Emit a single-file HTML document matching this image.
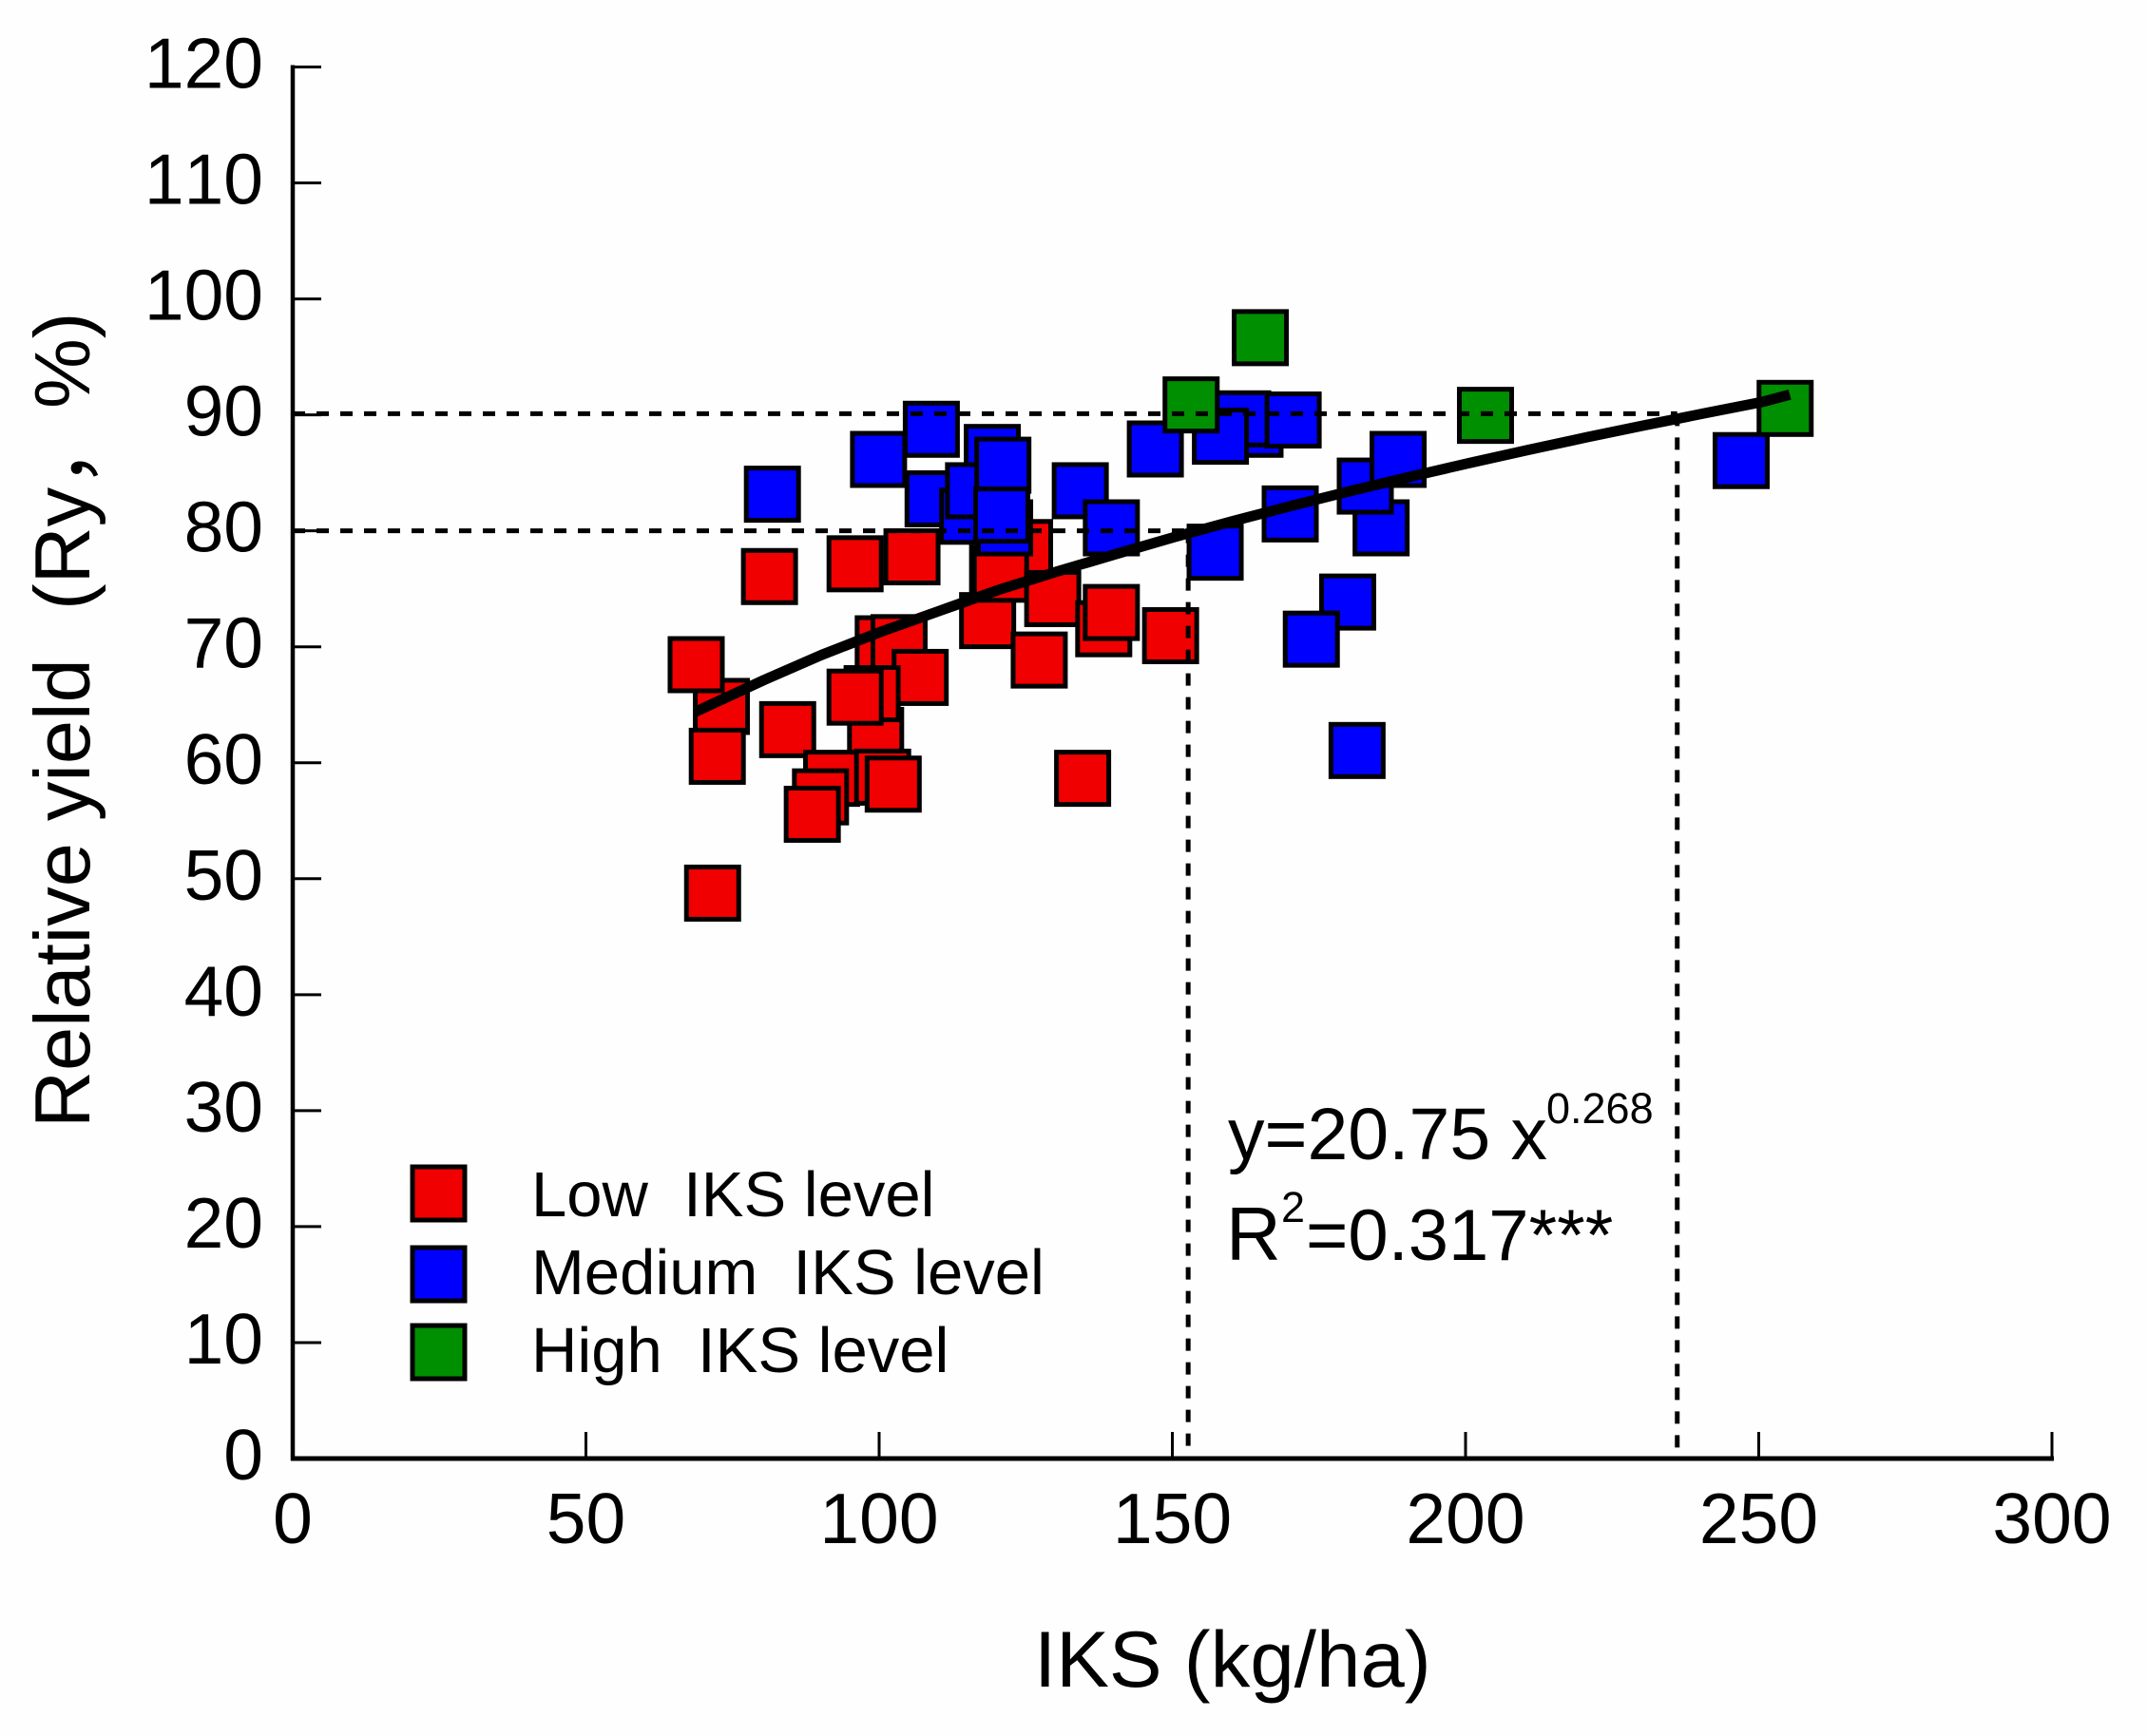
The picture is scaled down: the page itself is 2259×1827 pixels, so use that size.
<!DOCTYPE html>
<html lang="en">
<head>
<meta charset="utf-8">
<title>Relative yield vs IKS</title>
<style>
  html, body { margin: 0; padding: 0; background: #fff; }
  svg { display: block; }
  text { font-family: "Liberation Sans", "Noto Sans CJK SC", sans-serif; fill: #000; white-space: pre; font-kerning: none; }
</style>
</head>
<body>
<svg id="chart" xmlns="http://www.w3.org/2000/svg" width="2259" height="1827" viewBox="0 0 2259 1827">
  <rect x="0" y="0" width="2259" height="1827" fill="#fefefe"/>

  <g id="axes"></g>
  <g id="marks"></g>
  <g id="refs"></g>
  <g id="fit"></g>

  <text x="94" y="1187" font-size="83" transform="rotate(-90 94 1187)">Relative yield</text>
  <text x="94" y="642" font-size="83" transform="rotate(-90 94 642)">(Ry，</text>
  <text x="94" y="430" font-size="83" transform="rotate(-90 94 430)">%)</text>
  <text x="1088" y="1775" font-size="83.5">IKS (kg/ha)</text>

  <g>
    <rect x="434" y="1228" width="55" height="56" fill="#f00000" stroke="#000" stroke-width="5"/>
    <text x="559" y="1280" font-size="67">Low  IKS level</text>
    <rect x="434" y="1313" width="55" height="56" fill="#0000ff" stroke="#000" stroke-width="5"/>
    <text x="559" y="1362" font-size="67">Medium  IKS level</text>
    <rect x="434" y="1395" width="55" height="56" fill="#008f00" stroke="#000" stroke-width="5"/>
    <text x="559" y="1444" font-size="67">High  IKS level</text>
  </g>

  <g>
    <text x="1292" y="1220" font-size="77">y=20.75 x</text>
    <text x="1627" y="1182" font-size="45">0.268</text>
    <text x="1290" y="1326" font-size="80">R</text>
    <text x="1348" y="1286" font-size="45">2</text>
    <text x="1374" y="1326" font-size="76">=0.317***</text>
  </g>
</svg>

<script>
var xTickLabels = [0, 50, 100, 150, 200, 250, 300];
var yTickLabels = [0, 10, 20, 30, 40, 50, 60, 70, 80, 90, 100, 110, 120];

var lowX = [73.1, 68.8, 72.4, 71.6, 81.3, 95.9, 105.6, 84.4, 100.7, 103.4, 107.0, 99.4, 98.8, 95.9, 91.9, 100.6, 102.4, 90.0, 88.6, 134.7, 118.5, 124.8, 120.2, 120.7, 129.6, 127.3, 138.3, 139.6, 149.7];
var lowY = [64.9, 68.5, 60.6, 48.8, 76.1, 77.2, 77.8, 62.9, 70.3, 70.4, 67.4, 62.4, 66.0, 65.7, 58.7, 58.8, 58.2, 57.1, 55.6, 58.7, 72.3, 78.6, 76.4, 76.3, 74.2, 68.9, 71.6, 73.0, 71.0];

var mediumX = [81.8, 99.9, 109.2, 108.9, 119.3, 115.1, 116.1, 121.1, 121.4, 120.9, 134.3, 139.6, 147.1, 157.3, 164.1, 162.0, 158.2, 170.6, 170.1, 185.6, 182.9, 188.5, 179.9, 173.7, 181.5, 247.0];
var mediumY = [83.2, 86.2, 82.8, 88.8, 86.8, 81.3, 83.5, 85.7, 80.3, 81.4, 83.5, 80.3, 87.1, 78.2, 88.8, 89.7, 88.2, 89.6, 81.5, 80.3, 83.9, 86.2, 73.9, 70.7, 61.1, 86.1];

var highX = [165.0, 153.2, 203.4, 254.5];
var highY = [96.7, 90.9, 90.0, 90.6];

var curveX = [68.7, 80.2, 90.2, 100.3, 110.3, 120.3, 130.4, 140.4, 150.4, 160.4, 170.5, 180.5, 190.5, 200.6, 210.6, 220.6, 230.6, 240.7, 250.7, 255.3];
var curveY = [64.4, 67.1, 69.3, 71.3, 73.1, 74.9, 76.5, 78.0, 79.47, 80.85, 82.18, 83.45, 84.66, 85.84, 86.97, 88.06, 89.11, 90.13, 91.13, 91.75];

var refLevels = [90.1, 80];
var refCrossings = [236.1, 152.7];

var NS = 'http://www.w3.org/2000/svg';
function sx(v) { return 308 + v * (2159 - 308) / 300; }
function sy(v) { return 1535 - v * (1535 - 70.5) / 120; }

function make(tag, attrs, parent) {
  var el = document.createElementNS(NS, tag);
  for (var k in attrs) { el.setAttribute(k, attrs[k]); }
  parent.appendChild(el);
  return el;
}

var axes = document.getElementById('axes');
var marks = document.getElementById('marks');
var refs = document.getElementById('refs');
var fit = document.getElementById('fit');

var xAxisLine = make('line', { x1: 306, y1: sy(0), x2: sx(300) + 2, y2: sy(0), stroke: '#000', 'stroke-width': 5 }, axes);



var yAxisLine = make('line', { x1: sx(0), y1: sy(120) - 2, x2: sx(0), y2: sy(0) + 2, stroke: '#000', 'stroke-width': 4.5 }, axes);



xTickLabels.forEach(function (v) {
  if (v !== 0) {
    var t = make('line', { x1: sx(v), y1: sy(0), x2: sx(v), y2: sy(0) - 28, stroke: '#000', 'stroke-width': 3 }, axes);
    
    
  }
  var label = make('text', { x: sx(v), y: 1624, 'font-size': 75, 'text-anchor': 'middle' }, axes);
  
  
  label.textContent = String(v);
});

yTickLabels.forEach(function (v) {
  if (v !== 0) {
    var t = make('line', { x1: sx(0), y1: sy(v), x2: sx(0) + 30, y2: sy(v), stroke: '#000', 'stroke-width': 3 }, axes);
    
    
  }
  var label = make('text', { x: 277, y: sy(v) + 22, 'font-size': 75, 'text-anchor': 'end' }, axes);
  
  
  label.textContent = String(v);
});

function drawSeries(xs, ys, color, name) {
  xs.forEach(function (x, i) {
    var r = make('rect', {
      x: sx(x) - 27.5,
      y: sy(ys[i]) - 27,
      width: 55,
      height: 55,
      fill: color,
      stroke: '#000',
      'stroke-width': 5
    }, marks);
    
    
  });
}
drawSeries(lowX, lowY, '#f00000', 'low-iks-point');
drawSeries(mediumX, mediumY, '#0000ff', 'medium-iks-point');
drawSeries(highX, highY, '#008f00', 'high-iks-point');

refLevels.forEach(function (level, i) {
  var h = make('line', {
    x1: sx(0), y1: sy(level), x2: sx(refCrossings[i]), y2: sy(level),
    stroke: '#000', 'stroke-width': 5, 'stroke-dasharray': '13 12'
  }, refs);
  
  
  var v = make('line', {
    x1: sx(refCrossings[i]), y1: sy(level), x2: sx(refCrossings[i]), y2: sy(0),
    stroke: '#000', 'stroke-width': 5, 'stroke-dasharray': '13 12'
  }, refs);
  
  
});

var curvePoints = curveX.map(function (x, i) { return sx(x) + ',' + sy(curveY[i]); }).join(' ');
var curve = make('polyline', { points: curvePoints, fill: 'none', stroke: '#000', 'stroke-width': 11 }, fit);


</script>
</body>
</html>
